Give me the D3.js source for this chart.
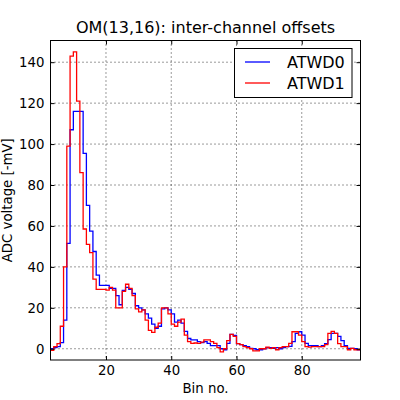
<!DOCTYPE html>
<html><head><meta charset="utf-8">
<script src="https://cdn.jsdelivr.net/npm/d3@7"></script>
<style>body{margin:0;background:#fff} text{font-family:"DejaVu Sans",sans-serif;fill:#000}</style>
</head><body><svg id="c" width="400" height="400"></svg>
<script>
const firstBin = 3;
const lastEdge = 98;
const atwd0 = [
  0, 0.5, 1, 3, 14, 51.5, 107, 116, 116, 116,
  95.5, 70, 57.5, 47.5, 36, 31, 31, 31, 29.5, 29.5,
  26, 21.5, 28.5, 30, 29, 27, 21, 20, 19, 17,
  15, 12, 10, 11, 19.5, 20, 19, 17, 13, 14,
  12.5, 8.5, 5, 4.3, 4.3, 3.5, 3, 3.5, 2.6, 1.5,
  1.5, 1.5, 0, -0.5, 2.6, 7, 6.5, 2.5, 2, 1.5,
  1, 0.2, 0, -0.5, -0.5, 0, 0.5, 0.5, 0.2, 0.5,
  0, 0.5, 1, 1.2, 3.5, 7.5, 8.3, 6.7, 2.6, 1.5,
  1.5, 1.5, 1, 1.5, 2.5, 4.5, 7.5, 7.5, 6, 4,
  1.5, 0.2, 0.2, 0, -0.5
];
const atwd1 = [
  -0.8, 1, 2.5, 11, 40, 99, 143, 145, 121, 86,
  58.5, 51, 47, 34, 29, 29, 29, 28.6, 30, 28.6,
  20, 20, 28, 31.5, 29.5, 26, 19.5, 18, 19, 14,
  9, 8, 10.5, 12.5, 20, 20, 17, 12, 11, 13,
  14.5, 6.7, 3.5, 2.6, 2.8, 2.6, 3.2, 4.3, 4.3, 3.5,
  2.6, 0.5, -1.5, 0, 4, 7, 6, 2.5, 2, 1,
  0.5, 0, -1, -1, 0, 0, 0.8, 0.2, 0.5, -0.5,
  0.5, 1, 1, 2.6, 8.3, 8.3, 6.7, 3.5, 1, 0.8,
  1, 1, 1, 1, 2, 7.5, 8.5, 7.5, 2.5, 1,
  1, -0.5, 0.2, -0.5, -0.5
];
const xTicks = [20, 40, 60, 80];
const yTicks = [0, 20, 40, 60, 80, 100, 120, 140];
const seriesNames = ["ATWD0", "ATWD1"];
const seriesColors = ["#0000ff", "#ff0000"];
const titleText = "OM(13,16): inter-channel offsets";
const xLabel = "Bin no.";
const yLabel = "ADC voltage [-mV]";

const svg = d3.select("#c");
const L = 50.5, R = 360.5, T = 40.5, B = 360;
const x = d3.scaleLinear().domain([firstBin, lastEdge]).range([L, R]);
const y = d3.scaleLinear().domain([-5.5, 150.6]).range([B, T]);

svg.append("rect").attr("width", 400).attr("height", 400).attr("fill", "#fff");
svg.append("defs").append("clipPath").attr("id", "clip")
  .append("rect").attr("x", L).attr("y", T).attr("width", R - L).attr("height", B - T);

// grid
const grid = svg.append("g").attr("stroke", "#000").attr("stroke-width", 0.8).attr("stroke-dasharray", "1,3");
grid.selectAll(".gx").data(xTicks).join("line")
  .attr("x1", d => x(d)).attr("x2", d => x(d)).attr("y1", T).attr("y2", B);
grid.selectAll(".gy").data(yTicks).join("line")
  .attr("y1", d => y(d)).attr("y2", d => y(d)).attr("x1", L).attr("x2", R);

// series
const seriesData = [atwd0, atwd1].map(vals => {
  const pts = vals.map((v, i) => ({ b: firstBin + i, v }));
  pts.push({ b: lastEdge, v: vals[vals.length - 1] });
  return pts;
});
const line = d3.line().x(d => x(d.b)).y(d => y(d.v)).curve(d3.curveStepAfter);
const plot = svg.append("g").attr("clip-path", "url(#clip)");
seriesData.forEach((pts, i) => {
  plot.append("path").datum(pts).attr("d", line)
    .attr("fill", "none").attr("stroke", seriesColors[i]).attr("stroke-width", 1.3)
    .attr("stroke-linejoin", "miter");
});

// axes
const fs = "13.3px";
const axL = svg.append("g").attr("transform", `translate(${L},0)`)
  .call(d3.axisLeft(y).tickValues(yTicks).tickSizeInner(-4).tickSizeOuter(0).tickPadding(6));
const axB = svg.append("g").attr("transform", `translate(0,${B})`)
  .call(d3.axisBottom(x).tickValues(xTicks).tickSizeInner(-4).tickSizeOuter(0).tickPadding(5.5));
const axR = svg.append("g").attr("transform", `translate(${R},0)`)
  .call(d3.axisRight(y).tickValues(yTicks).tickSizeInner(-4).tickSizeOuter(0).tickFormat(""));
const axT = svg.append("g").attr("transform", `translate(0,${T})`)
  .call(d3.axisTop(x).tickValues(xTicks).tickSizeInner(-4).tickSizeOuter(0).tickFormat(""));
[axL, axB, axR, axT].forEach(a => {
  a.select(".domain").remove();
  a.selectAll("line").attr("stroke", "#000");
  a.selectAll("text").style("font-size", fs).attr("fill", "#000")
    .style("font-family", "'DejaVu Sans', sans-serif");
});

// frame
svg.append("rect").attr("x", L).attr("y", T).attr("width", R - L).attr("height", B - T)
  .attr("fill", "none").attr("stroke", "#000").attr("stroke-width", 1);

// labels
svg.append("text").attr("x", (L + R) / 2).attr("y", 32.5).attr("text-anchor", "middle")
  .style("font-size", "16px").text(titleText);
svg.append("text").attr("x", (L + R) / 2).attr("y", 392.5).attr("text-anchor", "middle")
  .style("font-size", fs).text(xLabel);
svg.append("text").attr("transform", `translate(11.5,${(T + B) / 2}) rotate(-90)`)
  .attr("text-anchor", "middle").style("font-size", fs).text(yLabel);

// legend
const lg = svg.append("g");
lg.append("rect").attr("x", 234.5).attr("y", 48.5).attr("width", 117.5).attr("height", 49)
  .attr("fill", "#fff").attr("stroke", "#000").attr("stroke-width", 1);
seriesNames.forEach((name, i) => {
  const yy = 62 + i * 21;
  lg.append("line").attr("x1", 245).attr("x2", 270).attr("y1", yy).attr("y2", yy)
    .attr("stroke", seriesColors[i]).attr("stroke-width", 1.3);
  lg.append("text").attr("x", 287).attr("y", yy + 5.5).style("font-size", "16px").text(name);
});
</script></body></html>
